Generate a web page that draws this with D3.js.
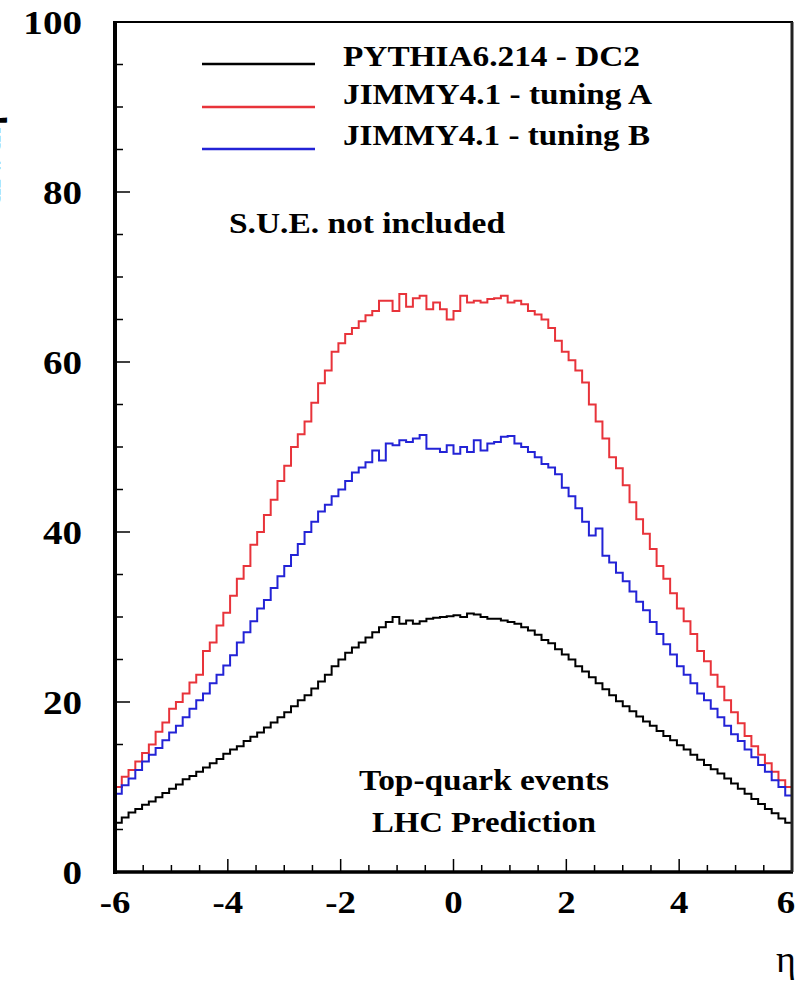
<!DOCTYPE html>
<html>
<head>
<meta charset="utf-8">
<script src="https://cdn.jsdelivr.net/npm/d3@7"></script>
<style>
  html, body { margin: 0; padding: 0; background: #fff; }
  svg { display: block; }
  text { font-family: "Liberation Serif", "DejaVu Serif", serif; }
</style>
</head>
<body>
<div id="chart"></div>
<script>
// ---------- data ----------
const etaMin = -6, etaMax = 6, nBins = 100;
const seriesNames = ["PYTHIA6.214 - DC2", "JIMMY4.1 - tuning A", "JIMMY4.1 - tuning B"];
const seriesColors = ["#000000", "#e8333a", "#2323d6"];

const pythiaDC2 = [
  5.8, 6.4, 7.0, 7.4, 7.9, 8.3, 8.8, 9.3, 9.8, 10.3,
  10.9, 11.3, 11.8, 12.3, 12.8, 13.3, 13.9, 14.4, 14.8, 15.4,
  15.9, 16.4, 17.0, 17.6, 18.2, 18.8, 19.5, 20.2, 20.8, 21.6,
  22.4, 23.2, 24.2, 25.0, 25.8, 26.4, 27.0, 27.6, 28.2, 28.8,
  29.4, 30.0, 29.2, 29.6, 29.2, 29.5, 29.8, 29.9, 30.0, 30.1,
  30.2, 30.0, 30.4, 30.3, 30.0, 29.8, 29.8, 29.6, 29.4, 29.2,
  28.8, 28.4, 27.9, 27.3, 26.9, 26.2, 25.6, 25.0, 24.2, 23.6,
  22.9, 22.2, 21.5, 20.8, 20.1, 19.5, 18.9, 18.3, 17.7, 17.2,
  16.6, 16.0, 15.5, 14.9, 14.4, 13.8, 13.2, 12.6, 12.1, 11.6,
  11.0, 10.4, 9.8, 9.2, 8.6, 8.0, 7.4, 6.9, 6.3, 5.8
];
const jimmyA = [
  10.0, 11.2, 12.0, 13.0, 14.0, 15.0, 16.5, 17.6, 19.2, 20.0,
  21.0, 22.3, 23.2, 26.0, 27.0, 29.0, 30.5, 32.5, 34.5, 36.0,
  38.5, 40.0, 42.0, 43.8, 46.0, 47.8, 50.0, 51.5, 53.0, 55.2,
  57.5, 59.0, 61.2, 62.2, 63.3, 64.0, 64.8, 65.5, 66.0, 67.2,
  67.2, 66.0, 68.0, 66.5, 67.5, 67.8, 66.2, 67.0, 66.2, 65.0,
  66.0, 67.8, 67.0, 67.2, 67.0, 67.4, 67.5, 67.8, 67.0, 67.2,
  66.8, 66.0, 65.6, 65.0, 64.0, 62.5, 61.2, 60.2, 59.0, 57.6,
  55.0, 53.0, 51.0, 48.8, 47.5, 45.5, 43.5, 41.5, 39.8, 38.0,
  36.0, 34.5, 32.8, 31.0, 29.5, 28.0, 26.0, 24.8, 23.2, 21.8,
  20.2, 18.8, 17.5, 16.0, 14.8, 13.8, 12.8, 11.8, 10.8, 10.0
];
const jimmyB = [
  9.2, 10.2, 11.0, 12.0, 13.0, 13.8, 14.6, 15.5, 16.4, 17.2,
  18.2, 19.2, 20.2, 21.0, 22.2, 23.2, 24.3, 25.5, 27.0, 28.2,
  29.5, 31.0, 32.0, 33.4, 34.8, 36.0, 37.3, 38.6, 40.0, 41.2,
  42.4, 43.2, 44.2, 45.0, 46.0, 47.0, 47.6, 48.2, 49.6, 48.4,
  50.4, 50.2, 50.8, 50.6, 51.0, 51.4, 49.8, 49.8, 49.4, 50.2,
  49.2, 50.0, 49.4, 50.8, 49.6, 50.4, 50.6, 51.2, 51.3, 50.4,
  50.0, 49.4, 48.8, 48.0, 47.6, 46.8, 45.2, 44.2, 42.8, 41.2,
  39.6, 40.4, 37.2, 36.4, 35.2, 34.2, 33.0, 31.8, 30.8, 29.4,
  28.0, 26.8, 25.6, 24.2, 23.2, 22.2, 21.0, 20.2, 19.2, 18.2,
  17.2, 16.2, 15.4, 14.4, 13.5, 12.6, 11.8, 10.8, 10.0, 9.0
];
const xTickLabels = ["-6", "-4", "-2", "0", "2", "4", "6"];
const yTickLabels = ["0", "20", "40", "60", "80", "100"];
const legendLabels = seriesNames;
const noteText = "S.U.E. not included";
const infoLines = ["Top-quark events", "LHC Prediction"];
const xTitle = "η";
const yTitle = "dN/dη";

// ---------- drawing ----------
const W = 798, H = 985;
const svg = d3.select("#chart").append("svg").attr("width", W).attr("height", H);

const x = d3.scaleLinear().domain([etaMin, etaMax]).range([115, 792]);
const y = d3.scaleLinear().domain([0, 100]).range([872, 22]);
const binW = (etaMax - etaMin) / nBins;

// y title fragment (mostly outside the picture, as in the reference)
svg.append("text")
  .attr("transform", "translate(0,116) rotate(-90)")
  .attr("text-anchor", "end")
  .attr("font-size", 34).attr("font-weight", "bold")
  .text(yTitle);

// frame
svg.append("rect").attr("x", x(etaMin)).attr("y", y(100))
  .attr("width", x(etaMax) - x(etaMin)).attr("height", y(0) - y(100))
  .attr("fill", "none").attr("stroke", "#000").attr("stroke-width", 2);

// ticks
const yMinor = d3.range(0, 101, 5);
svg.append("g").selectAll("line").data(yMinor).join("line")
  .attr("x1", x(etaMin)).attr("x2", d => x(etaMin) + (d % 20 === 0 ? 15 : 8))
  .attr("y1", d => y(d)).attr("y2", d => y(d))
  .attr("stroke", "#000").attr("stroke-width", 1.5);
const xMinor = d3.range(-6, 6.01, 0.5);
svg.append("g").selectAll("line").data(xMinor).join("line")
  .attr("x1", d => x(d)).attr("x2", d => x(d))
  .attr("y1", y(0)).attr("y2", d => y(0) - (Math.abs(d % 2) < 1e-9 ? 13 : 7))
  .attr("stroke", "#000").attr("stroke-width", 1.5);

// histograms
function stepPath(vals) {
  const pts = [[etaMin, 0]];
  vals.forEach((v, i) => {
    const e0 = etaMin + i * binW, e1 = e0 + binW;
    pts.push([e0, v]); pts.push([e1, v]);
  });
  pts.push([etaMax, 0]);
  return d3.line().x(d => x(d[0])).y(d => y(d[1]))(pts);
}
const allSeries = [pythiaDC2, jimmyA, jimmyB];
allSeries.forEach((vals, k) => {
  svg.append("path").attr("d", stepPath(vals))
    .attr("fill", "none").attr("stroke", seriesColors[k])
    .attr("stroke-width", 2).attr("stroke-linejoin", "miter");
});

// heavy left & bottom axis lines
svg.append("line").attr("x1", x(etaMin)).attr("x2", x(etaMin)).attr("y1", y(100) - 1).attr("y2", y(0) + 2)
  .attr("stroke", "#000").attr("stroke-width", 4);
svg.append("line").attr("x1", x(etaMin) - 2).attr("x2", x(etaMax) + 1).attr("y1", y(0)).attr("y2", y(0))
  .attr("stroke", "#000").attr("stroke-width", 3.5);
svg.append("line").attr("x1", x(etaMax)).attr("x2", x(etaMax)).attr("y1", y(100)).attr("y2", y(0))
  .attr("stroke", "#222").attr("stroke-width", 3);

// y tick labels
svg.append("g").selectAll("g").data(yTickLabels).join("g")
  .attr("transform", d => `translate(82,${y(+d) + 12})`)
  .append("text").attr("text-anchor", "end")
  .attr("transform", "scale(1.15,1)")
  .attr("font-size", 34).attr("font-weight", "bold")
  .text(d => d);

// x tick labels (last one kept just inside the right edge)
svg.append("g").selectAll("g").data(xTickLabels).join("g")
  .attr("transform", d => `translate(${Math.min(x(+d), 786)},913)`)
  .append("text").attr("text-anchor", "middle")
  .attr("transform", "scale(1.15,1)")
  .attr("font-size", 32).attr("font-weight", "bold")
  .text(d => d);

// x title
svg.append("text").attr("x", 786).attr("y", 972).attr("text-anchor", "middle")
  .attr("font-size", 38).text(xTitle);

// legend
const legY = [64, 107, 149];
const legBase = [66, 104, 145];
const legW = [297, 309, 307];
legendLabels.forEach((lab, i) => {
  svg.append("line").attr("x1", 202).attr("x2", 315).attr("y1", legY[i]).attr("y2", legY[i])
    .attr("stroke", seriesColors[i]).attr("stroke-width", 2.5);
  svg.append("text").attr("x", 343).attr("y", legBase[i])
    .attr("font-size", 30).attr("font-weight", "bold")
    .attr("textLength", legW[i]).attr("lengthAdjust", "spacingAndGlyphs")
    .text(lab);
});

// note
svg.append("text").attr("x", 229).attr("y", 233)
  .attr("font-size", 30).attr("font-weight", "bold")
  .attr("textLength", 276).attr("lengthAdjust", "spacingAndGlyphs")
  .text(noteText);

// info lines
const infoBase = [790, 832];
const infoW = [250, 224];
infoLines.forEach((t, i) => {
  svg.append("text").attr("x", 484 - infoW[i] / 2).attr("y", infoBase[i])
    .attr("font-size", 30).attr("font-weight", "bold")
    .attr("textLength", infoW[i]).attr("lengthAdjust", "spacingAndGlyphs")
    .text(t);
});
</script>
</body>
</html>
